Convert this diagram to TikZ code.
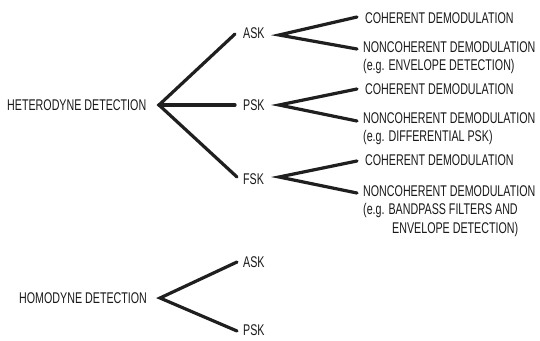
\documentclass[tikz,border=0pt]{standalone}
\usepackage{fontspec}
\setmainfont[FakeStretch=0.69]{Liberation Sans}
\begin{document}
\begin{tikzpicture}[x=1pt,y=-1pt,
  lbl/.style={font=\fontsize{15.5}{18.5}\selectfont, inner sep=0pt, anchor=west, text=black!90, align=left},
  multi/.style={lbl, anchor=north west},
  br/.style={line width=3.2pt, line cap=round, line join=miter, draw=black!88}]
\useasboundingbox (0,0) rectangle (540,340);
% labels
\node[lbl] (het) at (7,105) {HETERODYNE DETECTION};
\node[lbl] (askA) at (243,33) {ASK};
\node[lbl] (pskA) at (243,105) {PSK};
\node[lbl] (fskA) at (243,179) {FSK};
\node[lbl] (cohA) at (365,18) {COHERENT DEMODULATION};
\node[multi] (nonA) at (363,41) {NONCOHERENT DEMODULATION\\(e.g. ENVELOPE DETECTION)};
\node[lbl] (cohB) at (365,89) {COHERENT DEMODULATION};
\node[multi] (nonB) at (363,112) {NONCOHERENT DEMODULATION\\(e.g. DIFFERENTIAL PSK)};
\node[lbl] (cohC) at (365,160) {COHERENT DEMODULATION};
\node[multi] (nonC) at (363,185) {NONCOHERENT DEMODULATION\\(e.g. BANDPASS FILTERS AND\\\hspace*{29pt}ENVELOPE DETECTION)};
\node[lbl] (hom) at (19,298) {HOMODYNE DETECTION};
\node[lbl] (askB) at (243,262) {ASK};
\node[lbl] (pskB) at (243,330) {PSK};
% connector points
\coordinate (hetX) at (159,105);
\coordinate (askAin) at (235,34);
\coordinate (pskAin) at (235,105);
\coordinate (fskAin) at (237,177);
\coordinate (askX) at (279,35);
\coordinate (cohAin) at (357,17);
\coordinate (nonAin) at (357,49);
\coordinate (pskX) at (279,105);
\coordinate (cohBin) at (357,89);
\coordinate (nonBin) at (357,121);
\coordinate (fskX) at (279,177);
\coordinate (cohCin) at (357,161);
\coordinate (nonCin) at (357,193);
\coordinate (homX) at (160,298);
\coordinate (askBin) at (237,262);
\coordinate (pskBin) at (237,331);
% connectors
\draw[br] (askAin) -- (hetX) -- (fskAin);
\draw[br] (hetX) -- (pskAin);
\draw[br] (cohAin) -- (askX) -- (nonAin);
\draw[br] (cohBin) -- (pskX) -- (nonBin);
\draw[br] (cohCin) -- (fskX) -- (nonCin);
\draw[br] (askBin) -- (homX) -- (pskBin);
\end{tikzpicture}
\end{document}
